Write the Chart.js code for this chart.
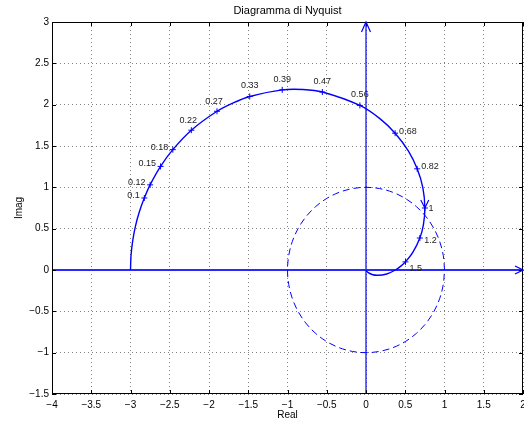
<!DOCTYPE html>
<html><head><meta charset="utf-8">
<script src="https://cdn.jsdelivr.net/npm/chart.js@4.4.0/dist/chart.umd.min.js"></script>
<style>html,body{margin:0;padding:0;background:#fff}#wrap{width:524px;height:421px}</style>
</head><body><div id="wrap"><canvas id="c" width="524" height="421"></canvas></div>
<script>
// Nyquist curve (positive frequencies, increasing omega)
const curveRe = [-3, -2.993, -2.971, -2.936, -2.887, -2.824, -2.750, -2.617, -2.461, -2.225, -1.898, -1.691, -1.481, -1.067, -0.803, -0.556, -0.078, 0.173, 0.371, 0.541, 0.652, 0.724, 0.75, 0.731, 0.686, 0.596, 0.503, 0.444, 0.375, 0.264, 0.140, 0.078, 0.029, 0.006, 0.001, 0];
const curveIm = [0, 0.180, 0.358, 0.534, 0.705, 0.871, 1.030, 1.253, 1.456, 1.691, 1.920, 2.022, 2.099, 2.179, 2.183, 2.153, 1.991, 1.834, 1.655, 1.438, 1.224, 0.997, 0.75, 0.547, 0.387, 0.212, 0.098, 0.047, 0, -0.048, -0.064, -0.054, -0.032, -0.012, -0.003, 0];
const arrowIndex = 22; // omega = 1

// Frequency markers
const freqLabels = ['0.1','0.12','0.15','0.18','0.22','0.27','0.33','0.39','0.47','0.56','0.68','0.82','1','1.2','1.5'];
const freqRe = [-2.824, -2.750, -2.617, -2.461, -2.225, -1.898, -1.481, -1.067, -0.556, -0.078, 0.371, 0.652, 0.75, 0.686, 0.503];
const freqIm = [0.871, 1.030, 1.253, 1.456, 1.691, 1.920, 2.099, 2.179, 2.153, 1.991, 1.655, 1.224, 0.75, 0.387, 0.098];
const freqPlacement = ['l','l','l','l','tl','tl','t','t','t','t','r','r','r1','rb','rbb'];

// Unit circle
const circleRe = [1, 0.9848, 0.9397, 0.8660, 0.7660, 0.6428, 0.5, 0.3420, 0.1736, 0, -0.1736, -0.3420, -0.5, -0.6428, -0.7660, -0.8660, -0.9397, -0.9848, -1, -0.9848, -0.9397, -0.8660, -0.7660, -0.6428, -0.5, -0.3420, -0.1736, 0, 0.1736, 0.3420, 0.5, 0.6428, 0.7660, 0.8660, 0.9397, 0.9848, 1];
const circleIm = [0, 0.1736, 0.3420, 0.5, 0.6428, 0.7660, 0.8660, 0.9397, 0.9848, 1, 0.9848, 0.9397, 0.8660, 0.7660, 0.6428, 0.5, 0.3420, 0.1736, 0, -0.1736, -0.3420, -0.5, -0.6428, -0.7660, -0.8660, -0.9397, -0.9848, -1, -0.9848, -0.9397, -0.8660, -0.7660, -0.6428, -0.5, -0.3420, -0.1736, 0];

// Axes lines
const realAxisRe = [-4, 2];
const realAxisIm = [0, 0];
const imagAxisRe = [0, 0];
const imagAxisIm = [-1.5, 3];

// Axis ranges / ticks
const xMin = -4, xMax = 2, xStep = 0.5;
const yMin = -1.5, yMax = 3, yStep = 0.5;
const titleText = 'Diagramma di Nyquist';
const xTitle = 'Real';
const yTitle = 'Imag';

const pts = (xs, ys) => xs.map((v, i) => ({x: v, y: ys[i]}));
const FONT = '"Liberation Sans", Arial, Helvetica, sans-serif';
const BLUE = '#0000ff';
const fmt = v => { const r = Math.round(v * 10) / 10; return String(r).replace('-', '\u2212'); };

const placements = {
  l:   {align: 'right',  dx: -4.5, dy: -2.5},
  tl:  {align: 'center', dx: -3,   dy: -9.5},
  t:   {align: 'center', dx: 0,    dy: -10.5},
  r:   {align: 'left',   dx: 4,    dy: -2},
  r1:  {align: 'left',   dx: 3.5,  dy: 1},
  rb:  {align: 'left',   dx: 4.5,  dy: 2.5},
  rbb: {align: 'left',   dx: 4,    dy: 6.5}
};

function arrow(ctx, tx, ty, dx, dy, len, half) {
  const n = Math.hypot(dx, dy) || 1; const ux = dx / n, uy = dy / n;
  const bx = tx - ux * len, by = ty - uy * len;
  ctx.beginPath();
  ctx.moveTo(bx - uy * half, by + ux * half);
  ctx.lineTo(tx, ty);
  ctx.lineTo(bx + uy * half, by - ux * half);
  ctx.stroke();
}

const deco = {
  id: 'deco',
  afterDatasetsDraw(chart) {
    const {ctx, chartArea: a, scales: {x, y}} = chart;
    ctx.save();
    // inside ticks
    ctx.strokeStyle = '#000'; ctx.lineWidth = 1; ctx.setLineDash([]);
    ctx.beginPath();
    x.ticks.forEach(t => {
      const px = Math.round(x.getPixelForValue(t.value)) + 0.5;
      ctx.moveTo(px, a.bottom); ctx.lineTo(px, a.bottom - 4);
      ctx.moveTo(px, a.top); ctx.lineTo(px, a.top + 4);
    });
    y.ticks.forEach(t => {
      const py = Math.round(y.getPixelForValue(t.value)) + 0.5;
      ctx.moveTo(a.left, py); ctx.lineTo(a.left + 4, py);
      ctx.moveTo(a.right, py); ctx.lineTo(a.right - 4, py);
    });
    ctx.stroke();
    // box
    ctx.strokeRect(Math.round(a.left) + 0.5, Math.round(a.top) + 0.5, Math.round(a.right - a.left) - 1, Math.round(a.bottom - a.top) - 1);
    // arrows
    ctx.strokeStyle = BLUE; ctx.lineWidth = 1.2;
    const ra = chart.getDatasetMeta(3).data;
    arrow(ctx, ra[1].x, ra[1].y, ra[1].x - ra[0].x, ra[1].y - ra[0].y, 8, 4);
    const ia = chart.getDatasetMeta(4).data;
    arrow(ctx, ia[1].x, ia[1].y, ia[1].x - ia[0].x, ia[1].y - ia[0].y, 10, 4.5);
    const cu = chart.getDatasetMeta(0).data;
    const p0 = cu[arrowIndex - 1], p1 = cu[arrowIndex], p2 = cu[arrowIndex + 1];
    arrow(ctx, p1.x, p1.y, p2.x - p0.x, p2.y - p0.y, 8, 4);
    // frequency labels
    ctx.fillStyle = '#222';
    ctx.font = '9px ' + FONT;
    ctx.textBaseline = 'middle';
    const fm = chart.getDatasetMeta(1).data;
    fm.forEach((p, i) => {
      const pl = placements[freqPlacement[i]];
      ctx.textAlign = pl.align;
      ctx.fillText(freqLabels[i], p.x + pl.dx, p.y + pl.dy);
    });
    ctx.restore();
  }
};

new Chart(document.getElementById('c'), {
  type: 'scatter',
  data: {
    datasets: [
      {data: pts(curveRe, curveIm), showLine: true, borderColor: BLUE, borderWidth: 1.4, pointRadius: 0, tension: 0.3, fill: false},
      {data: pts(freqRe, freqIm), showLine: false, pointStyle: 'cross', pointRadius: 3, borderColor: BLUE, pointBorderColor: BLUE, pointBorderWidth: 1},
      {data: pts(circleRe, circleIm), showLine: true, borderColor: BLUE, borderWidth: 1, borderDash: [7, 4], pointRadius: 0, tension: 0.35, fill: false},
      {data: pts(realAxisRe, realAxisIm), showLine: true, borderColor: '#2a2aff', borderWidth: 2, pointRadius: 0},
      {data: pts(imagAxisRe, imagAxisIm), showLine: true, borderColor: BLUE, borderWidth: 1.2, pointRadius: 0}
    ]
  },
  options: {
    responsive: false,
    animation: false,
    devicePixelRatio: 1,
    layout: {autoPadding: false, padding: {left: 0, right: 1, top: 0, bottom: 0}},
    plugins: {
      legend: {display: false},
      tooltip: {enabled: false},
      title: {display: true, text: titleText, fullSize: false, color: '#000',
              font: {family: FONT, size: 11, weight: 'normal', lineHeight: 1.2},
              padding: {top: 4, bottom: 4.8}}
    },
    scales: {
      x: {
        type: 'linear', min: xMin, max: xMax,
        afterFit: s => { s.height = 27; s.paddingRight = 0; s.paddingLeft = 0; },
        ticks: {stepSize: xStep, autoSkip: false, maxRotation: 0, padding: 5, color: '#000',
                font: {family: FONT, size: 10}, callback: v => fmt(v)},
        grid: {color: 'rgba(0,0,0,0.5)', lineWidth: 1, drawTicks: false},
        border: {display: false, dash: [1, 3]},
        title: {display: true, text: xTitle, color: '#000', font: {family: FONT, size: 10}, padding: {top: 0, bottom: 0}}
      },
      y: {
        type: 'linear', min: yMin, max: yMax,
        afterFit: s => { s.width = 52; s.paddingTop = 0; s.paddingBottom = 0; },
        ticks: {stepSize: yStep, autoSkip: false, padding: 3, color: '#000',
                font: {family: FONT, size: 10}, callback: v => fmt(v)},
        grid: {color: 'rgba(0,0,0,0.5)', lineWidth: 1, drawTicks: false},
        border: {display: false, dash: [1, 3]},
        title: {display: true, text: yTitle, color: '#000', font: {family: FONT, size: 10}, padding: {top: 13, bottom: 0}}
      }
    }
  },
  plugins: [deco]
});
</script></body></html>
